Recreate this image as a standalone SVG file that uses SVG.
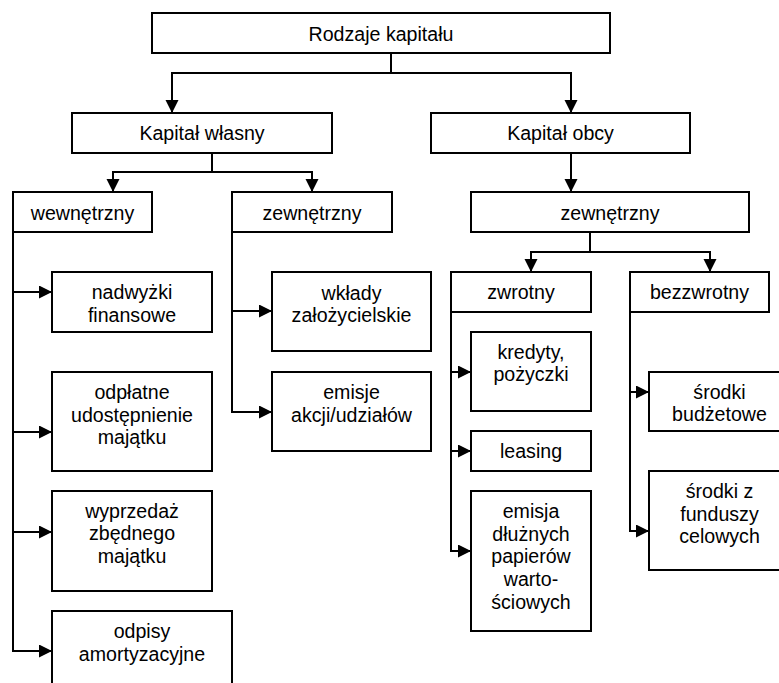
<svg xmlns="http://www.w3.org/2000/svg" width="779" height="683" viewBox="0 0 779 683">
<defs>
<marker id="ah" markerWidth="14" markerHeight="14" refX="13" refY="6.5" orient="auto" markerUnits="userSpaceOnUse">
<path d="M0,0 L13,6.5 L0,13 Z" fill="#000"/>
</marker>
<style>
rect.n{fill:#fff;stroke:#000;stroke-width:2}
text{font-family:"Liberation Sans",Arial,sans-serif;font-size:19.6px;fill:#000;text-anchor:middle}
.c path{fill:none;stroke:#000;stroke-width:2}
.c path.a{marker-end:url(#ah)}
</style>
</defs>
<rect width="779" height="683" fill="#fff"/>
<g class="c" id="connectors">
<path d="M391,53 V73 M172,73 H571"/>
<path class="a" d="M172,72 V113"/>
<path class="a" d="M571,72 V113"/>
<path d="M212,153 V172 M113,172 H312"/>
<path class="a" d="M113,171 V192"/>
<path class="a" d="M312,171 V192"/>
<path class="a" d="M571,153 V192"/>
<path d="M590,232 V252 M531,252 H710"/>
<path class="a" d="M531,251 V272"/>
<path class="a" d="M710,251 V272"/>
<path d="M13,232 V651"/>
<path class="a" d="M12,292 H52"/>
<path class="a" d="M12,432 H52"/>
<path class="a" d="M12,532 H52"/>
<path class="a" d="M12,651 H52"/>
<path d="M232,232 V412"/>
<path class="a" d="M231,311 H272"/>
<path class="a" d="M231,412 H272"/>
<path d="M451,312 V551"/>
<path class="a" d="M450,372 H471"/>
<path class="a" d="M450,451 H471"/>
<path class="a" d="M450,551 H471"/>
<path d="M630,312 V531"/>
<path class="a" d="M629,392 H649"/>
<path class="a" d="M629,531 H649"/>
</g>
<g id="rodzaje"><rect class="n" x="152" y="13" width="458" height="40"/><text x="381" y="41">Rodzaje kapitału</text></g>
<g id="wlasny"><rect class="n" x="72" y="113" width="260" height="40"/><text x="202" y="140">Kapitał własny</text></g>
<g id="obcy"><rect class="n" x="431" y="113" width="259" height="40"/><text x="560.5" y="140">Kapitał obcy</text></g>
<g id="wewn"><rect class="n" x="13" y="192" width="139" height="40"/><text x="82.5" y="219.5">wewnętrzny</text></g>
<g id="zewn1"><rect class="n" x="232" y="192" width="160" height="40"/><text x="312" y="219.5">zewnętrzny</text></g>
<g id="zewn2"><rect class="n" x="471" y="192" width="278" height="40"/><text x="610" y="219.5">zewnętrzny</text></g>
<g id="zwrotny"><rect class="n" x="451" y="272" width="140" height="40"/><text x="521" y="299">zwrotny</text></g>
<g id="bezzwrotny"><rect class="n" x="630" y="272" width="139" height="40"/><text x="699.5" y="299">bezzwrotny</text></g>
<g id="nadwyzki"><rect class="n" x="52" y="272" width="160" height="60"/><text x="132" y="299">nadwyżki</text><text x="132" y="321.7">finansowe</text></g>
<g id="odplatne"><rect class="n" x="52" y="372" width="160" height="99"/><text x="132" y="398.5">odpłatne</text><text x="132" y="421.5">udostępnienie</text><text x="132" y="444">majątku</text></g>
<g id="wyprzedaz"><rect class="n" x="52" y="491" width="160" height="100"/><text x="132" y="517.7">wyprzedaż</text><text x="132" y="540.4">zbędnego</text><text x="132" y="563">majątku</text></g>
<g id="odpisy"><rect class="n" x="52" y="611" width="180" height="90"/><text x="142" y="638">odpisy</text><text x="142" y="660.7">amortyzacyjne</text></g>
<g id="wklady"><rect class="n" x="272" y="272" width="159" height="79"/><text x="351.5" y="299.5">wkłady</text><text x="351.5" y="322">założycielskie</text></g>
<g id="emisje"><rect class="n" x="272" y="372" width="159" height="79"/><text x="351.5" y="398.5">emisje</text><text x="351.5" y="421.5">akcji/udziałów</text></g>
<g id="kredyty"><rect class="n" x="471" y="332" width="120" height="79"/><text x="531" y="358.5">kredyty,</text><text x="531" y="381.2">pożyczki</text></g>
<g id="leasing"><rect class="n" x="471" y="431" width="120" height="40"/><text x="531" y="458">leasing</text></g>
<g id="emisja"><rect class="n" x="471" y="491" width="120" height="140"/><text x="531" y="518">emisja</text><text x="531" y="540.7">dłużnych</text><text x="531" y="563.4">papierów</text><text x="531" y="586">warto-</text><text x="531" y="608.7">ściowych</text></g>
<g id="budzetowe"><rect class="n" x="649" y="372" width="141" height="59"/><text x="719.5" y="398.5">środki</text><text x="719.5" y="421.2">budżetowe</text></g>
<g id="fundusze"><rect class="n" x="649" y="471" width="141" height="99"/><text x="719.5" y="498">środki z</text><text x="719.5" y="520.7">funduszy</text><text x="719.5" y="543.4">celowych</text></g>
</svg>
